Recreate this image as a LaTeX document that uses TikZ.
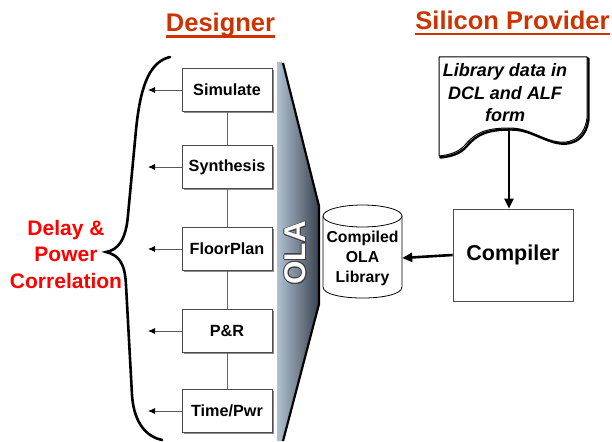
\documentclass[tikz,border=0pt]{standalone}
\usepackage{fontspec}
\setmainfont{Liberation Sans}
\usepackage{contour}
\usetikzlibrary{calc,arrows.meta,shadows}
\definecolor{titlered}{RGB}{204,51,0}
\definecolor{olalight}{RGB}{176,193,210}
\definecolor{oladark}{RGB}{60,70,82}
\contourlength{0.9pt}

\tikzset{
  title/.style={font=\bfseries\fontsize{25.5}{30}\selectfont, text=titlered, inner sep=0pt},
  stage/.style={draw=black!70, line width=0.8pt, fill=white, minimum width=90pt,
    minimum height=43pt, inner sep=0pt, font=\bfseries\fontsize{16.2}{18}\selectfont,
    drop shadow={shadow xshift=1.6pt, shadow yshift=-1.6pt, fill=black!45, opacity=1}},
  link/.style={draw=black!60, line width=0.8pt},
  feedback/.style={draw=black!65, line width=0.8pt, -{Latex[length=7pt,width=6pt,color=black]}},
  flow/.style={line width=2.6pt, -{Triangle[length=10pt,width=9pt]}},
}

\begin{document}
\begin{tikzpicture}[x=1pt,y=-1pt]
		\useasboundingbox (0,0) rectangle (612,441);
		%%%%% START %%%%%
		
		\node[title, anchor=base] (designer) at (220.5,32) {Designer};
		\node[title, anchor=base] (provider) at (512.5,29.5) {Silicon Provider};
		\draw[titlered, line width=2.6pt] ($(designer.base west)+(0,4.5)$) -- ($(designer.base east)+(0,4.5)$);
		\draw[titlered, line width=2.6pt] ($(provider.base west)+(0,4.5)$) -- ($(provider.base east)+(0,4.5)$);
		
		% OLA band
		\shade[left color=olalight, right color=oladark] (277,62) -- (282,62) -- (318,205) -- (318,305) -- (282,441) -- (277,441) -- cycle;
		\draw[line width=2.2pt, line join=round] (283,63) -- (319,206) -- (319,304) -- (283,441);
		\node[rotate=90, text=white, font=\bfseries\fontsize{30}{30}\selectfont] (ola) at (296,253) {\contour{black!75}{OLA}};
		
		% design flow
		\node[stage] (sim) at (227,90) {Simulate};
		\node[stage] (syn) at (227,167) {Synthesis};
		\node[stage] (floor) at (227,249) {FloorPlan};
		\node[stage] (pr) at (227,331) {P\&R};
		\node[stage] (time) at (227,411) {Time/Pwr};
		\foreach \a/\b in {sim/syn, syn/floor, floor/pr, pr/time}
			\draw[link] (\a.south) -- (\b.north);
		
		\coordinate (fb) at (148,0);
		\foreach \s in {sim, syn, floor, pr, time}
			\draw[feedback] (\s.west) -- (\s.west -| fb);
		
		% brace
		\draw[line width=2.6pt, line cap=round] (170,57) .. controls (148,62) and (140,90) .. (136,130) -- (128,215) .. controls (126,240) and (118,250) .. (106,252) .. controls (118,255) and (125,262) .. (126,285) -- (132,395) .. controls (134,425) and (148,437) .. (162,440);
		\node[font=\bfseries\fontsize{21}{26.5}\selectfont, text=red, align=center] (corr) at (66,254) {Delay \&\\Power\\Correlation};
		
		% library cylinder
		\draw[line width=0.8pt, fill=white] (323,216) -- (323,287) .. controls (323,301.7) and (402,301.7) .. (402,287) -- (402,216);
		\draw[line width=0.8pt, fill=white] (362.5,216) ellipse [x radius=39.5, y radius=11];
		\node[font=\bfseries\fontsize{15.8}{20}\selectfont, align=center, minimum width=79pt, inner sep=0pt] (lib) at (362.5,258) {Compiled\\OLA\\Library};
		
		\node[draw=black!70, line width=0.8pt, minimum width=120pt, minimum height=92pt, font=\bfseries\fontsize{21.5}{24}\selectfont] (comp) at (513,255) {Compiler};
		\draw[flow] (comp.west) -- (lib.east);
		
		% source document
		\draw[line width=2.4pt, line join=round, xshift=1.5pt, yshift=-1.5pt] (439,57) -- (587,57) -- (587,118) .. controls (584,140) and (568,146) .. (550,140) .. controls (535,135) and (525,128) .. (510,128) .. controls (485,128) and (475,133) .. (465,145) .. controls (458,153) and (448,155) .. (439,156) -- cycle;
		\draw[line width=1pt, fill=white, line join=round] (439,57) -- (587,57) -- (587,118) .. controls (584,140) and (568,146) .. (550,140) .. controls (535,135) and (525,128) .. (510,128) .. controls (485,128) and (475,133) .. (465,145) .. controls (458,153) and (448,155) .. (439,156) -- cycle;
		\node[font=\bfseries\itshape\fontsize{18}{22.5}\selectfont, align=center, inner sep=0pt] (doc) at (505,93) {Library data in\\DCL and ALF\\form};
		\coordinate (docout) at (509,128);
		\draw[flow] (docout) -- (docout |- comp.north);
		
		%%%%% END %%%%%
	\end{tikzpicture}
\end{document}
